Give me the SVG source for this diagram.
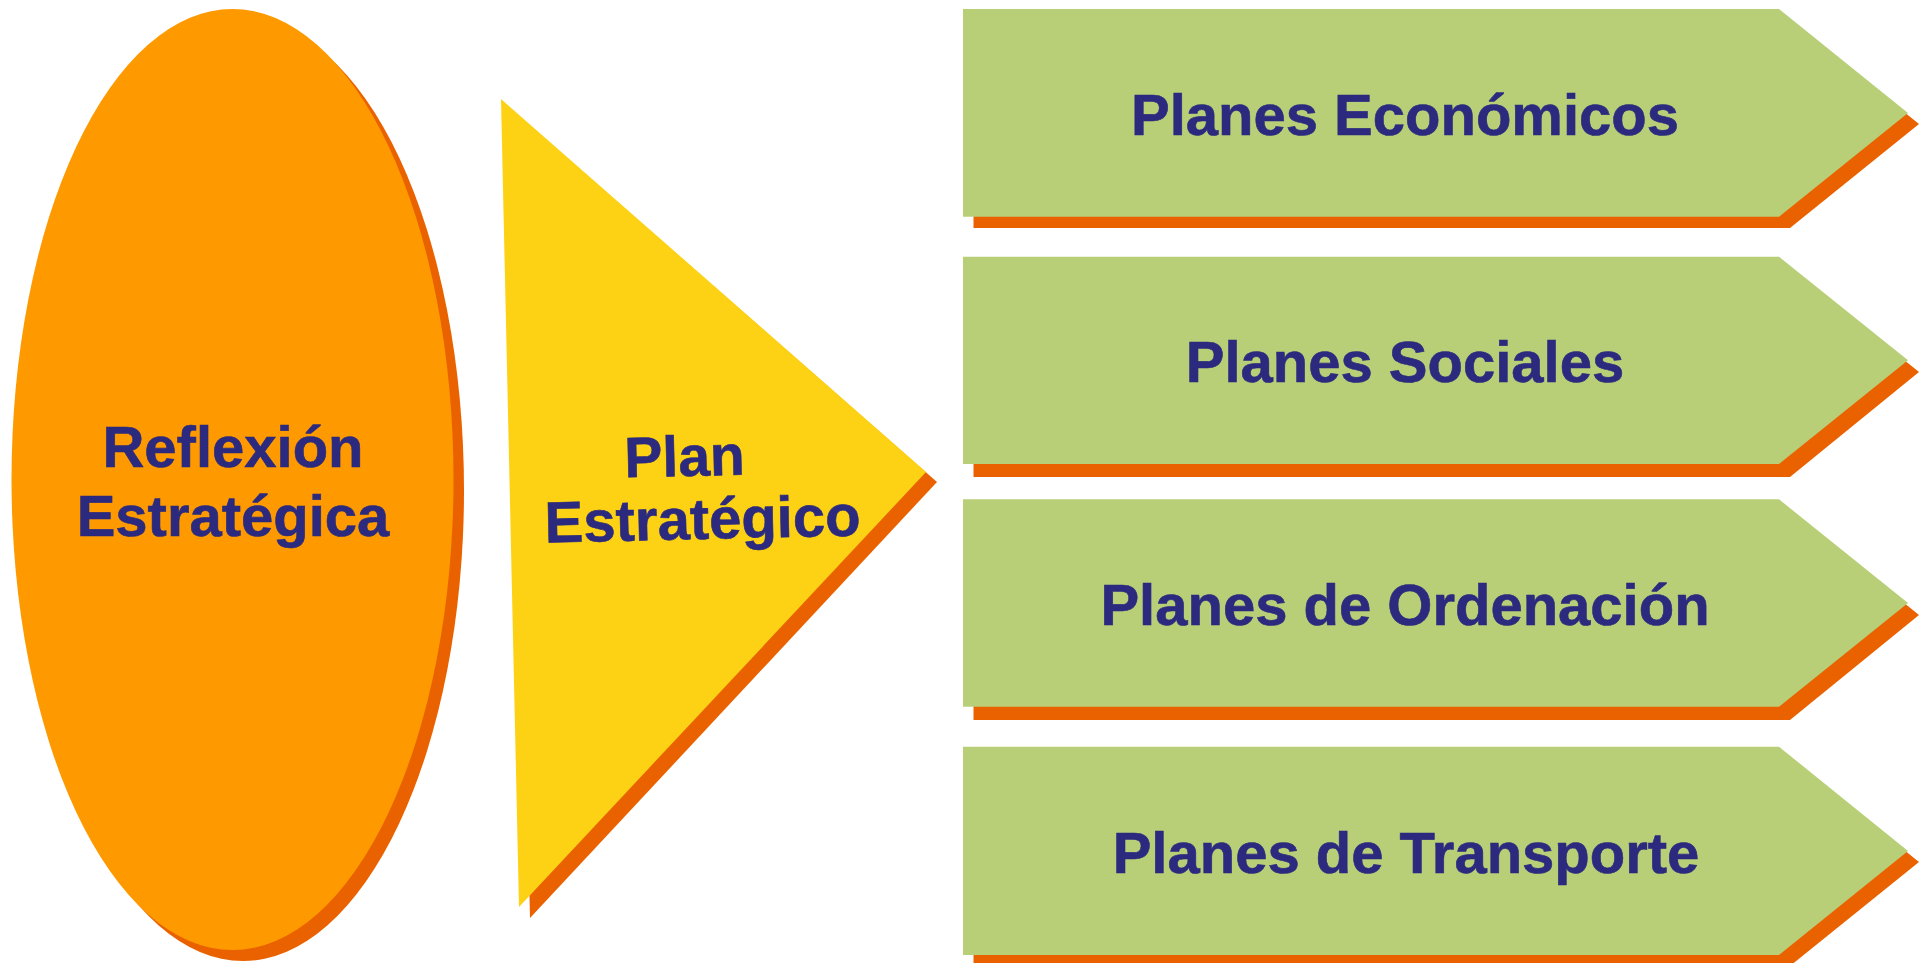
<svg xmlns="http://www.w3.org/2000/svg" width="1919" height="963" viewBox="0 0 1919 963">
<style>
.shadow{fill:#EA6200;}
.lbl{font-family:"Liberation Sans",Arial,sans-serif;font-weight:bold;fill:#2B2A7E;stroke:#2B2A7E;stroke-width:0.6;text-anchor:middle;}
.arrow{fill:#B8CF78;}
</style>
<rect width="1919" height="963" fill="#FFFFFF"/>
<g id="reflexion">
<ellipse class="shadow" cx="243" cy="490.5" rx="221" ry="470.5"/>
<ellipse cx="232.5" cy="479.5" rx="221" ry="470.5" fill="#FE9A00"/>
<text class="lbl" font-size="58" x="233" y="467">Reflexión</text>
<text class="lbl" font-size="58" x="233" y="536">Estratégica</text>
</g>
<g id="plan">
<polygon class="shadow" points="512,109.5 937,482 530,918"/>
<polygon points="501,99 926,472 519,907" fill="#FED214"/>
<text class="lbl" font-size="57" x="685" y="476" transform="rotate(-1.3 685 476)">Plan</text>
<text class="lbl" font-size="58" x="703" y="539" transform="rotate(-1.3 703 539)">Estratégico</text>
</g>
<g id="economicos">
<path class="shadow" d="M973.5,20 H1790 L1919,124 L1790,228 H973.5 Z"/>
<path class="arrow" d="M963,9 H1779 L1908,113 L1779,216.7 H963 Z"/>
<text class="lbl" font-size="58" x="1405" y="135">Planes Económicos</text>
</g>
<g id="sociales">
<path class="shadow" d="M973.5,268 H1790 L1919,372 L1790,477 H973.5 Z"/>
<path class="arrow" d="M963,256.7 H1779 L1908,360.3 L1779,464 H963 Z"/>
<text class="lbl" font-size="58" x="1405" y="382">Planes Sociales</text>
</g>
<g id="ordenacion">
<path class="shadow" d="M973.5,511 H1790 L1919,615 L1790,720 H973.5 Z"/>
<path class="arrow" d="M963,499.3 H1779 L1908,603 L1779,706.7 H963 Z"/>
<text class="lbl" font-size="58" x="1405" y="625">Planes de Ordenación</text>
</g>
<g id="transporte">
<path class="shadow" d="M973.5,758 H1790 L1919,862 L1790,966 H973.5 Z"/>
<path class="arrow" d="M963,746.7 H1779 L1908,851 L1779,955 H963 Z"/>
<text class="lbl" font-size="58" x="1406" y="873">Planes de Transporte</text>
</g>
<g id="connectors"></g>
</svg>
